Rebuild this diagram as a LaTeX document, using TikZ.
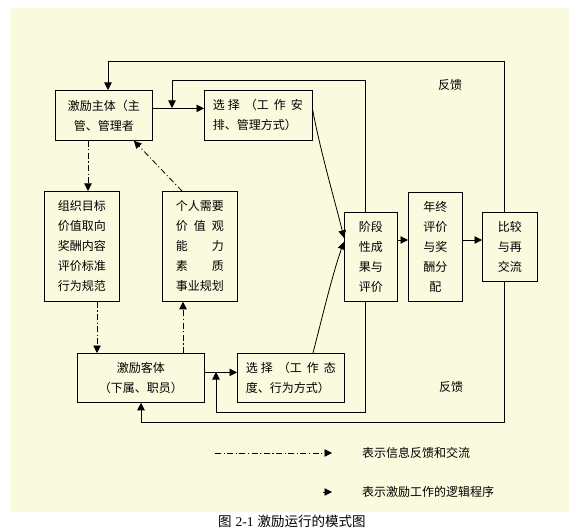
\documentclass[tikz,border=0pt]{standalone}
\usepackage{fontspec}
\newfontfamily\cjk{Noto Sans CJK SC}
\newfontfamily\lser{Liberation Serif}
\usetikzlibrary{arrows.meta}
\definecolor{bg}{RGB}{250,250,222}
\begin{document}
\begin{tikzpicture}[x=1pt,y=-1pt,
  box/.style={draw, line width=0.8pt, inner sep=0pt, anchor=north west, align=center,
    font=\cjk\fontsize{12}{20}\selectfont},
  lbox/.style={draw, line width=0.8pt, inner ysep=0pt, inner xsep=8.5pt, anchor=north west, align=left,
    font=\cjk\fontsize{12}{20}\selectfont},
  ln/.style={line width=0.8pt},
  tip/.style={-{Triangle[length=7.5pt,width=7.5pt]}},
  dd/.style={line width=0.8pt, dash pattern=on 6pt off 2.5pt on 1.2pt off 2.5pt},
  lbl/.style={font=\cjk\fontsize{12}{14}\selectfont, inner sep=0pt}
]
\useasboundingbox (0,0) rectangle (576,532);
\fill[bg] (10,8) rectangle (569,512);

% boxes
\node[box, minimum width=97pt, minimum height=50pt] (m1) at (55,90) {激励主体（主\\管、管理者};
\node[lbox, text width=91pt, minimum height=50pt] (s1) at (204,90)
  {选\hspace{3pt}择\hspace{5pt}（工\hspace{5pt}作\hspace{5pt}安\\排、管理方式）};
\node[box, minimum width=75pt, minimum height=110pt] (org) at (44,191)
  {组织目标\\价值取向\\奖酬内容\\评价标准\\行为规范};
\node[box, minimum width=75pt, minimum height=110pt] (ind) at (162,191)
  {个人需要\\\makebox[48pt][s]{价\hfill{}值\hfill{}观}\\\makebox[48pt][s]{能\hfill{}力}\\\makebox[48pt][s]{素\hfill{}质}\\事业规划};
\node[box, minimum width=127pt, minimum height=49pt] (m2) at (77,353) {激励客体\\（下属、职员）};
\node[lbox, text width=90pt, minimum height=49pt] (s2) at (237,353)
  {选\hspace{3pt}择\hspace{5pt}（工\hspace{5pt}作\hspace{5pt}态\\度、行为方式）};
\node[box, minimum width=53pt, minimum height=89pt] (stage) at (344,212) {阶段\\性成\\果与\\评价};
\node[box, minimum width=54pt, minimum height=109pt] (year) at (408,192) {年终\\评价\\与奖\\酬分\\配};
\node[box, minimum width=55pt, minimum height=69pt] (cmp) at (482,212) {比较\\与再\\交流};

% helper coordinates
\coordinate (r1) at (0,240);
\coordinate (f1) at (504,61);
\coordinate (f1b) at (108,61);
\coordinate (f2) at (365,80);
\coordinate (f2b) at (172,80);
\coordinate (j1) at (172,108);
\coordinate (b1) at (365,412);
\coordinate (b1b) at (216,412);
\coordinate (j2) at (216,372);
\coordinate (b2) at (504,422);
\coordinate (b2b) at (141,422);
\coordinate (d1) at (88,0);
\coordinate (d2) at (97,0);
\coordinate (d3) at (183,0);
\coordinate (d4) at (182,0);
\coordinate (c2) at (313,0);

% main logic connectors
\draw[ln,tip] ([yshift=7pt]m1.east) -- ([yshift=7pt]s1.west);
\draw[ln,tip] ([yshift=5.5pt]m2.east) -- ([yshift=5.5pt]s2.west);
\draw[ln,tip] (stage.east |- r1) -- (year.west |- r1);
\draw[ln,tip] (year.east |- r1) -- (cmp.west |- r1);
\draw[ln,tip] ([yshift=5pt]s1.east) .. controls (320,150) and (336,205) .. ([yshift=19pt]stage.west);
\draw[ln,tip] (s2.north -| c2) .. controls (322,318) and (333,272) .. ([yshift=15pt]stage.west);

% feedback loops
\draw[ln,tip] (cmp.north -| f1) -- (f1) -- (f1b) -- (m1.north -| f1b);
\draw[ln,tip] (stage.north -| f2) -- (f2) -- (f2b) -- (j1);
\draw[ln,tip] (stage.south -| f2) -- (b1) -- (b1b) -- (j2);
\draw[ln,tip] (cmp.south -| f1) -- (b2) -- (b2b) -- (m2.south -| b2b);

% information feedback (dash-dot)
\draw[dd,tip] (m1.south -| d1) -- (org.north -| d1);
\draw[dd,tip] (org.south -| d2) -- (m2.north -| d2);
\draw[dd,tip] (m2.north -| d3) -- (ind.south -| d3);
\draw[dd,tip] (ind.north -| d4) -- ([xshift=30pt]m1.south);

% labels
\node[lbl] (fk1) at (450,85) {反馈};
\node[lbl] (fk2) at (451,387) {反馈};

% legend
\coordinate (lg1) at (215,453);
\coordinate (lg2) at (332,453);
\draw[dd,tip] (lg1) -- (lg2);
\node[lbl, anchor=west] (t1) at (362,453) {表示信息反馈和交流};
\coordinate (lg3) at (323,492);
\coordinate (lg4) at (332,492);
\draw[ln,tip] (lg3) -- (lg4);
\node[lbl, anchor=west] (t2) at (362,492) {表示激励工作的逻辑程序};

% caption
\node[font=\cjk\fontsize{13.5}{15}\selectfont, inner sep=0pt, anchor=west] (cap) at (218,521)
  {图\hspace{4pt}{\lser 2-1}\hspace{4pt}激励运行的模式图};
\end{tikzpicture}
\end{document}
